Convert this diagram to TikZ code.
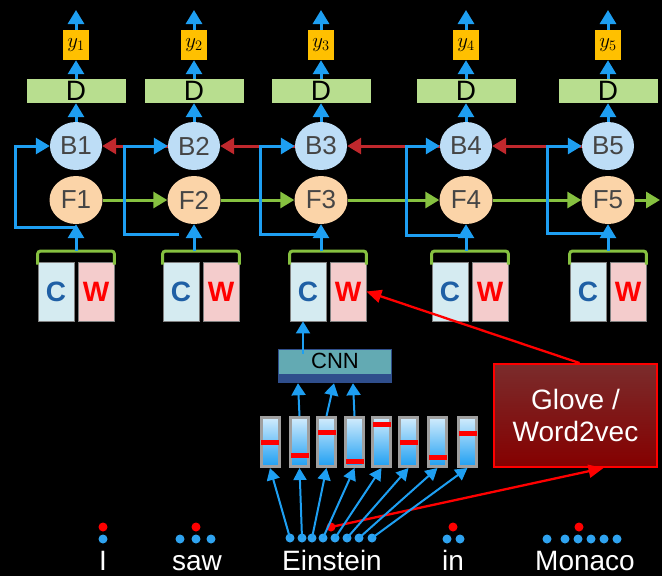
\documentclass[tikz,border=0pt]{standalone}
\usepackage{fontspec}
\setmainfont{Liberation Sans}
\usetikzlibrary{arrows.meta,shapes.geometric}

\definecolor{skyblue}{HTML}{1E9FF2}
\definecolor{dotblue}{HTML}{2FA3F0}
\definecolor{bfill}{HTML}{BDDDF6}
\definecolor{ffill}{HTML}{FBD4A8}
\definecolor{dfill}{HTML}{B8DE8F}
\definecolor{ygold}{HTML}{FFC000}
\definecolor{arrred}{HTML}{C0282D}
\definecolor{arrgreen}{HTML}{86C140}
\definecolor{cfill}{HTML}{D5EBF1}
\definecolor{wfill}{HTML}{F4CCCC}
\definecolor{cletter}{HTML}{1F5FA5}
\definecolor{cnnteal}{HTML}{63AAB3}
\definecolor{cnnnavy}{HTML}{2F4E8C}
\definecolor{glovetop}{HTML}{7A2C2C}
\definecolor{glovebot}{HTML}{850000}
\definecolor{txtgray}{HTML}{454545}

\tikzset{
  blk/.style={line width=3pt, skyblue, -{Triangle[length=14pt,width=16pt]}},
  redarr/.style={line width=3pt, arrred, -{Triangle[length=14pt,width=16pt]}},
  greenarr/.style={line width=3pt, arrgreen, -{Triangle[length=14pt,width=16pt]}},
  thinarr/.style={line width=2pt, skyblue, -{Triangle[length=12pt,width=13pt]}},
  redthin/.style={line width=2.3pt, red, -{Triangle[length=15pt,width=13pt]}},
  ynode/.style={fill=ygold, minimum width=26pt, minimum height=30pt, inner sep=0pt, font=\fontsize{20}{20}\selectfont},
  dnode/.style={fill=dfill, minimum width=99pt, minimum height=24pt, inner sep=0pt, font=\fontsize{28}{28}\selectfont},
  bnode/.style={ellipse, fill=bfill, minimum width=52pt, minimum height=48pt, inner sep=0pt, text=txtgray, font=\fontsize{26}{26}\selectfont},
  fnode/.style={ellipse, fill=ffill, minimum width=53pt, minimum height=48pt, inner sep=0pt, text=txtgray, font=\fontsize{26}{26}\selectfont},
  cbox/.style={draw=gray, line width=0.8pt, fill=cfill, minimum width=36pt, minimum height=59pt, inner sep=0pt, text=cletter, font=\fontsize{28}{28}\selectfont\bfseries},
  wbox/.style={cbox, fill=wfill, text=red},
  brace/.style={line width=3pt, arrgreen, rounded corners=3pt},
  vecbar/.style={draw=gray!75, line width=3pt, top color=skyblue!20, middle color=skyblue!65, bottom color=skyblue, minimum width=18pt, minimum height=49pt, inner sep=0pt},
  word/.style={text=white, anchor=base, inner sep=0pt, font=\fontsize{28}{28}\selectfont}
}

\begin{document}
\begin{tikzpicture}[x=1pt, y=-1pt]
    \fill[black] (0,0) rectangle (662,576);

    % columns of the tagger
    \foreach \i/\x/\cw/\sx/\sy/\lx in {1/76/76/76/227/15, 2/194/201/179/234/124, 3/321/328/321/234/260, 4/466/470/467/235/406, 5/608/608/608/233/547} {
        \node[ynode] (Y\i) at (\x,45) {$y_{\i}$};
        \node[dnode] (D\i) at (\x,91) {D};
        \node[bnode] (B\i) at (\x,146) {B\i};
        \node[fnode] (F\i) at (\x,200) {F\i};
        \node[cbox] (C\i) at (\cw-20,291.5) {C};
        \node[wbox] (W\i) at (\cw+20,291.5) {W};
        \coordinate (T\i) at (\x,251);
        \coordinate (S\i) at (\sx,\sy);
        \coordinate (L\i) at (\lx,\sy);
        \coordinate (O\i) at (\x,10);
        \draw[brace] ([yshift=-3pt]C\i.north west) |- (T\i) -| ([yshift=-3pt]W\i.north east);
        \draw[blk] (T\i) -- (F\i.south);
        \draw[blk] (B\i.north) -- (D\i.south);
        \draw[blk] (D\i.north) -- (Y\i.south);
        \draw[blk] (Y\i.north) -- (O\i);
    }

    \foreach \i/\j in {2/1, 3/2, 4/3, 5/4}
        \draw[redarr] (B\i.west) -- (B\j.east);
    \foreach \i/\j in {1/2, 2/3, 3/4, 4/5}
        \draw[greenarr] (F\i.east) -- (F\j.west);
    \coordinate (G6) at (660,200);
    \draw[greenarr] (F5.east) -- (G6);

    \foreach \i in {1,...,5}
        \draw[blk] (S\i) -- (L\i) |- (B\i.west);

    % character CNN
    \node[draw=cnnnavy, line width=1.5pt, fill=cnnteal, minimum width=113pt, minimum height=33pt] (CNN) at (335,366) {};
    \fill[cnnnavy] ([xshift=0.75pt,yshift=0.75pt]CNN.south west) rectangle ([xshift=-0.75pt,yshift=9pt]CNN.south east);
    \node[font=\fontsize{22}{22}\selectfont] (CNNtext) at (335,361) {CNN};
    \draw[line width=2pt, skyblue, -{Triangle[length=12pt,width=14pt]}] ([xshift=-32pt,yshift=-5pt]CNN.north) -- ([xshift=-32pt]CNN.north |- C3.south);

    % character vectors
    \foreach \i/\x/\m in {1/270/442, 2/299.5/455, 3/326.5/432, 4/354.5/461, 5/381.5/424, 6/408.5/442, 7/437.5/457, 8/467.5/433} {
        \node[vecbar] (V\i) at (\x,442) {};
        \fill[red] (\x-9,\m-2.5) rectangle (\x+9,\m+2.5);
    }
    \draw[line width=2pt, skyblue, -{Triangle[length=12pt,width=14pt]}] (V2.north) -- ([xshift=-37pt]CNN.south);
    \draw[line width=2pt, skyblue, -{Triangle[length=12pt,width=14pt]}] (V3.north) -- ([xshift=-1pt]CNN.south);
    \draw[line width=2pt, skyblue, -{Triangle[length=12pt,width=14pt]}] (V4.north) -- ([xshift=18pt]CNN.south);

    % word embeddings
    \node[draw=red, line width=2pt, top color=glovetop, bottom color=glovebot, minimum width=163pt, minimum height=103pt, text=white, align=center, font=\fontsize{28}{32}\selectfont] (Glove) at (575.5,415.5) {Glove /\\Word2vec};
    \coordinate (RE) at (331,527);
    \fill[red] (RE) circle (4.5pt);
    \draw[redthin] ([xshift=4pt]Glove.north) -- (W3.east);
    \draw[redthin] (RE) -- ([xshift=28pt]Glove.south);

    \foreach \i/\x in {1/290, 2/302, 3/312, 4/323, 5/335, 6/347, 7/359, 8/372} {
        \coordinate (ED\i) at (\x,538);
        \fill[dotblue] (ED\i) circle (4.5pt);
        \draw[thinarr] (ED\i) -- (V\i.south);
    }

    % sentence
    \node[word] (wI) at (103,570) {I};
    \node[word] (wSaw) at (197,570) {saw};
    \node[word] (wEinstein) at (332,570) {Einstein};
    \node[word] (wIn) at (453,570) {in};
    \node[word] (wMonaco) at (585,570) {Monaco};
    \foreach \x in {103, 180, 196, 211, 447, 460, 547, 565, 578, 591, 604, 617}
        \fill[dotblue] (\x,539) circle (4.5pt);
    \foreach \x in {103, 196, 453, 579}
        \fill[red] (\x,527) circle (4.5pt);
\end{tikzpicture}
\end{document}
